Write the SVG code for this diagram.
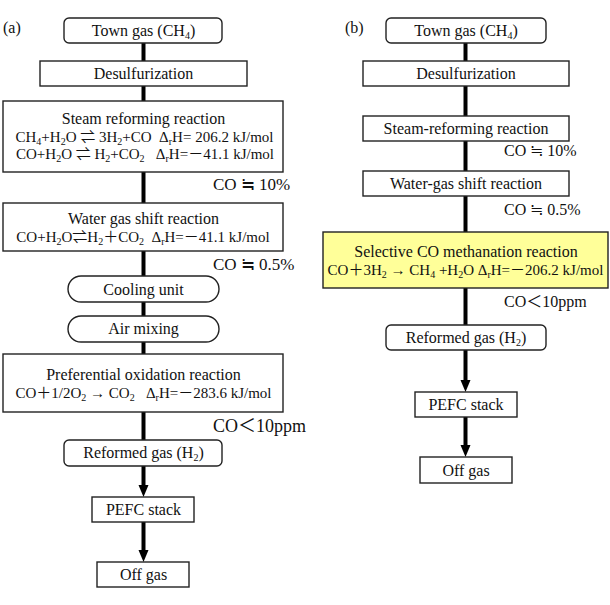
<svg xmlns="http://www.w3.org/2000/svg" width="610" height="605" viewBox="0 0 610 605">
<style>
text{font-family:"Liberation Serif",serif;fill:#111;}
.j{font-family:"Liberation Serif","Noto Sans CJK JP",serif;}
.lbl{font-size:16px;text-anchor:middle;}
.f{font-size:15px;text-anchor:middle;}
.n{font-size:16px;}
.n2{font-size:17px;}
.sb{font-size:10px;}
.box{fill:#fff;stroke:#222;stroke-width:1.4;}
.yl{fill:#ffff99;stroke:#222;stroke-width:1.4;}
.c{stroke:#000;stroke-width:4;fill:none;}
</style>
<defs>
<marker id="ah" markerUnits="userSpaceOnUse" markerWidth="12" markerHeight="12" refX="0.5" refY="5" orient="auto" viewBox="0 0 12 10">
<path d="M0,0 L12,5 L0,10 z" fill="#000"/>
</marker>
</defs>
<rect width="610" height="605" fill="#fff"/>

<g id="connectors">
<line class="c" x1="143.5" y1="43" x2="143.5" y2="61"/>
<line class="c" x1="143.5" y1="86" x2="143.5" y2="101"/>
<line class="c" x1="143.5" y1="172" x2="143.5" y2="203"/>
<line class="c" x1="143.5" y1="251" x2="143.5" y2="276"/>
<line class="c" x1="143.5" y1="302" x2="143.5" y2="316"/>
<line class="c" x1="143.5" y1="342" x2="143.5" y2="354"/>
<line class="c" x1="143.5" y1="412" x2="143.5" y2="440"/>
<line class="c" x1="143.5" y1="466" x2="143.5" y2="485.5" marker-end="url(#ah)"/>
<line class="c" x1="143.5" y1="522" x2="143.5" y2="550.5" marker-end="url(#ah)"/>
<line class="c" x1="465.5" y1="43" x2="465.5" y2="61"/>
<line class="c" x1="465.5" y1="86" x2="465.5" y2="116"/>
<line class="c" x1="465.5" y1="141" x2="465.5" y2="171"/>
<line class="c" x1="465.5" y1="196" x2="465.5" y2="232"/>
<line class="c" x1="465.5" y1="288" x2="465.5" y2="325"/>
<line class="c" x1="465.5" y1="350" x2="465.5" y2="380.5" marker-end="url(#ah)"/>
<line class="c" x1="465.5" y1="417" x2="465.5" y2="445.5" marker-end="url(#ah)"/>
</g>

<text class="n" x="3" y="33">(a)</text>
<text class="n" x="345" y="33">(b)</text>

<g id="a-town">
<rect class="box" x="64" y="18" width="158" height="25" rx="5"/>
<text class="lbl" x="143.5" y="36">Town gas (CH<tspan class="sb" dy="3">4</tspan><tspan dy="-3">)</tspan></text>
</g>
<g id="a-desulf">
<rect class="box" x="40" y="61" width="207" height="25"/>
<text class="lbl" x="143.5" y="79">Desulfurization</text>
</g>
<g id="a-steam">
<rect class="box" x="3" y="101" width="280" height="71"/>
<text class="lbl" x="143.5" y="124">Steam reforming reaction</text>
<text class="f j" x="144.5" y="142">CH<tspan class="sb" dy="3">4</tspan><tspan dy="-3">+H</tspan><tspan class="sb" dy="3">2</tspan><tspan dy="-3">O ⇌ 3H</tspan><tspan class="sb" dy="3">2</tspan><tspan dy="-3">+CO&#160; Δ</tspan><tspan class="sb" dy="3">r</tspan><tspan dy="-3">H= 206.2 kJ/mol</tspan></text>
<text class="f j" x="145" y="159">CO+H<tspan class="sb" dy="3">2</tspan><tspan dy="-3">O ⇌ H</tspan><tspan class="sb" dy="3">2</tspan><tspan dy="-3">+CO</tspan><tspan class="sb" dy="3">2</tspan><tspan dy="-3">&#160;&#160; Δ</tspan><tspan class="sb" dy="3">r</tspan><tspan dy="-3">H=－41.1 kJ/mol</tspan></text>
</g>
<text class="n2 j" x="213" y="190">CO ≒ 10%</text>
<g id="a-wgs">
<rect class="box" x="3" y="203" width="280" height="48"/>
<text class="lbl" x="143.5" y="224">Water gas shift reaction</text>
<text class="f j" x="143" y="242">CO+H<tspan class="sb" dy="3">2</tspan><tspan dy="-3">O⇌H</tspan><tspan class="sb" dy="3">2</tspan><tspan dy="-3">＋CO</tspan><tspan class="sb" dy="3">2</tspan><tspan dy="-3">&#160; Δ</tspan><tspan class="sb" dy="3">r</tspan><tspan dy="-3">H=－41.1 kJ/mol</tspan></text>
</g>
<text class="n2 j" x="213" y="270">CO ≒ 0.5%</text>
<g id="a-cool">
<rect class="box" x="68" y="276" width="151" height="26" rx="13"/>
<text class="lbl" x="143.5" y="295">Cooling unit</text>
</g>
<g id="a-air">
<rect class="box" x="68" y="316" width="151" height="26" rx="13"/>
<text class="lbl" x="143.5" y="334">Air mixing</text>
</g>
<g id="a-prox">
<rect class="box" x="3" y="354" width="280" height="58"/>
<text class="lbl" x="143.5" y="380">Preferential oxidation reaction</text>
<text class="f j" x="143.5" y="398">CO＋1/2O<tspan class="sb" dy="3">2</tspan><tspan dy="-3"> → CO</tspan><tspan class="sb" dy="3">2</tspan><tspan dy="-3">&#160;&#160; Δ</tspan><tspan class="sb" dy="3">r</tspan><tspan dy="-3">H=－283.6 kJ/mol</tspan></text>
</g>
<text class="j" x="213" y="432" style="font-size:18px">CO＜10ppm</text>
<g id="a-reformed">
<rect class="box" x="64" y="440" width="158" height="26" rx="5"/>
<text class="lbl" x="143.5" y="458">Reformed gas (H<tspan class="sb" dy="3">2</tspan><tspan dy="-3">)</tspan></text>
</g>
<g id="a-pefc">
<rect class="box" x="92" y="497" width="102" height="25"/>
<text class="lbl" x="143.5" y="515">PEFC stack</text>
</g>
<g id="a-off">
<rect class="box" x="97" y="562" width="92" height="25"/>
<text class="lbl" x="143.5" y="580">Off gas</text>
</g>

<g id="b-town">
<rect class="box" x="386" y="18" width="160" height="25" rx="5"/>
<text class="lbl" x="466" y="36">Town gas (CH<tspan class="sb" dy="3">4</tspan><tspan dy="-3">)</tspan></text>
</g>
<g id="b-desulf">
<rect class="box" x="363" y="61" width="206" height="25"/>
<text class="lbl" x="466" y="79">Desulfurization</text>
</g>
<g id="b-steam">
<rect class="box" x="363" y="116" width="206" height="25"/>
<text class="lbl" x="466" y="134">Steam-reforming reaction</text>
</g>
<text class="n j" x="504" y="156">CO ≒ 10%</text>
<g id="b-wgs">
<rect class="box" x="363" y="171" width="206" height="25"/>
<text class="lbl" x="466" y="189">Water-gas shift reaction</text>
</g>
<text class="n j" x="504" y="215">CO ≒ 0.5%</text>
<g id="b-meth">
<rect class="yl" x="323" y="232" width="285" height="56"/>
<text class="lbl" x="466" y="257">Selective CO methanation reaction</text>
<text class="f j" x="465.5" y="275">CO＋3H<tspan class="sb" dy="3">2</tspan><tspan dy="-3"> → CH</tspan><tspan class="sb" dy="3">4</tspan><tspan dy="-3"> +H</tspan><tspan class="sb" dy="3">2</tspan><tspan dy="-3">O Δ</tspan><tspan class="sb" dy="3">r</tspan><tspan dy="-3">H=－206.2 kJ/mol</tspan></text>
</g>
<text class="n j" x="504" y="307">CO＜10ppm</text>
<g id="b-reformed">
<rect class="box" x="386" y="325" width="160" height="25" rx="5"/>
<text class="lbl" x="466" y="343">Reformed gas (H<tspan class="sb" dy="3">2</tspan><tspan dy="-3">)</tspan></text>
</g>
<g id="b-pefc">
<rect class="box" x="415" y="392" width="102" height="25"/>
<text class="lbl" x="466" y="410">PEFC stack</text>
</g>
<g id="b-off">
<rect class="box" x="420" y="457" width="92" height="26"/>
<text class="lbl" x="466" y="476">Off gas</text>
</g>
</svg>
